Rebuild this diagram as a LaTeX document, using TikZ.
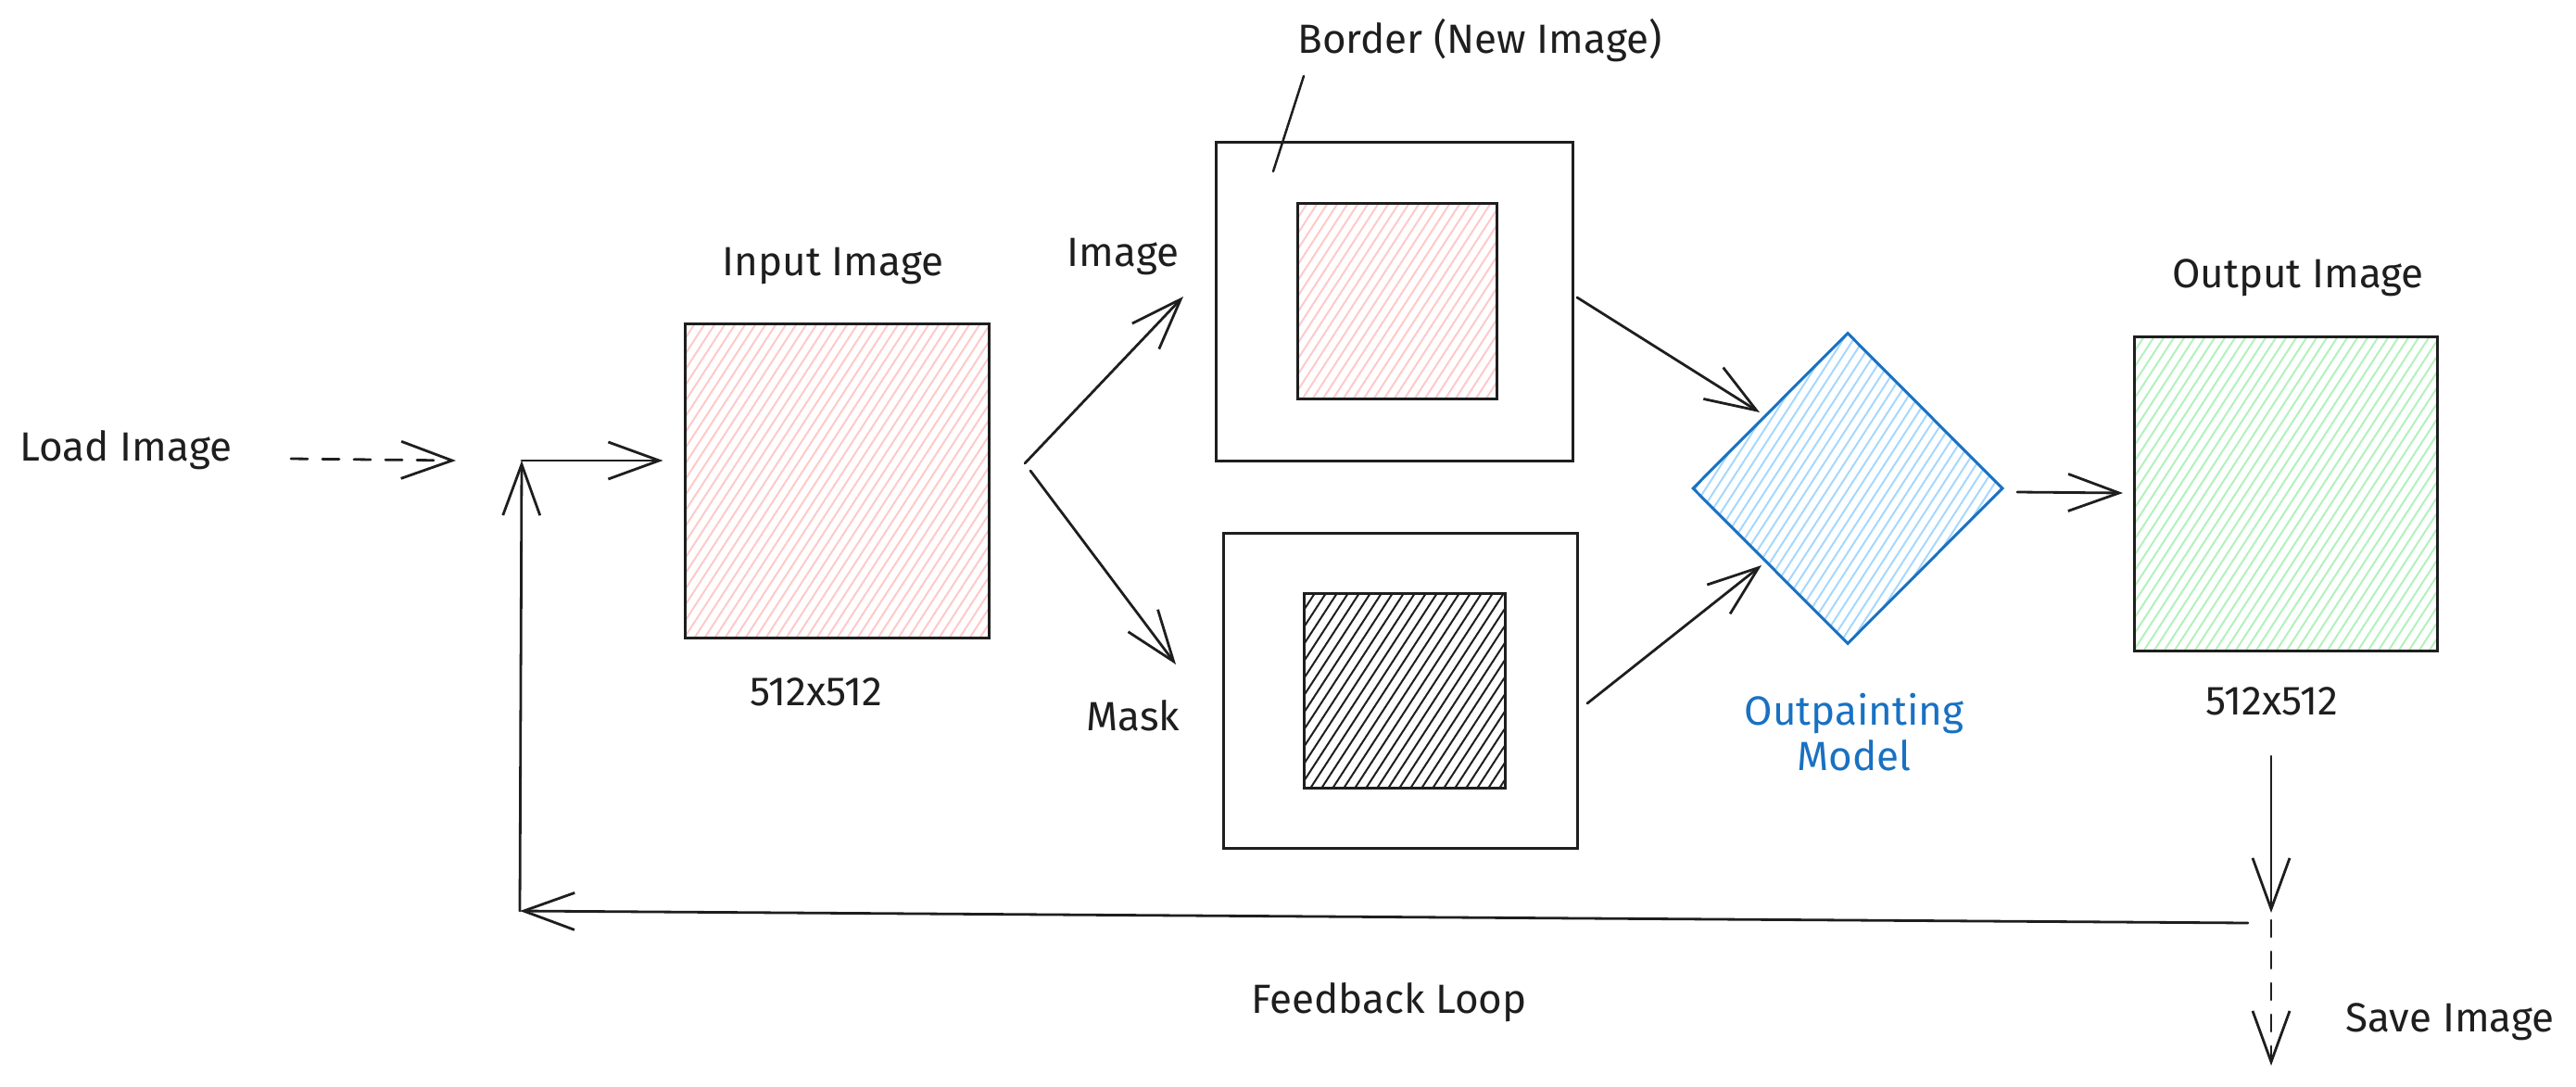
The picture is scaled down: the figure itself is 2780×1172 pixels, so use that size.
\documentclass[tikz,border=0pt]{standalone}
\usepackage{fontspec}
\setmainfont{Fira Sans}
\usetikzlibrary{arrows.meta,shapes.geometric,calc}
\definecolor{ink}{HTML}{1E1E1E}
\definecolor{pinkh}{HTML}{FFC9C9}
\definecolor{greenh}{HTML}{B2F2BB}
\definecolor{blueh}{HTML}{A5D8FF}
\definecolor{bluestroke}{HTML}{1971C2}
\tikzset{
  lbl/.style={font=\fontsize{44}{50}\selectfont, text=ink, anchor=base, inner sep=0pt},
  box/.style={draw=ink, line width=3pt, inner sep=0pt},
  conn/.style={draw=ink, line width=2.8pt, line cap=round, -{Straight Barb[length=55pt,width=40pt,line width=2.8pt]}},
  dashconn/.style={conn, dash pattern=on 18pt off 16pt},
  hatchline/.style={line width=2pt},
}
\newcommand{\hatchbox}[6]{%
  \begin{scope}
    \clip (#1,#2) rectangle (#3,#4);
    \pgfmathsetmacro{\hhx}{(#4-#2)*0.65}
    \pgfmathsetmacro{\hta}{#1-\hhx}
    \pgfmathsetmacro{\htb}{#1-\hhx+#6}
    \foreach \hx in {\hta,\htb,...,#3} {\draw[hatchline, draw=#5] (\hx,#4) -- (\hx+\hhx,#2);}
  \end{scope}}
\begin{document}
\begin{tikzpicture}[x=1pt,y=-1pt]
\useasboundingbox (0,0) rectangle (2780,1172);

% hatch fills
\hatchbox{739}{349}{1067}{688}{pinkh}{11}
\hatchbox{1400}{219}{1615}{430}{pinkh}{11}
\hatchbox{1407}{640}{1624}{850}{ink}{12}
\hatchbox{2303}{363}{2630}{702}{greenh}{11}
\begin{scope}
  \clip (1994,359) -- (2161,527) -- (1994,695) -- (1826,527) -- cycle;
  \foreach \hx in {1600,1611,...,2170} {\draw[hatchline, draw=blueh] (\hx,695) -- (\hx+218,359);}
\end{scope}

% shapes
\node[box, minimum width=328pt, minimum height=339pt] (inimg) at (903,518.5) {};
\node[box, minimum width=385pt, minimum height=344pt] (border) at (1504.5,325) {};
\node[box, minimum width=215pt, minimum height=211pt] (inner) at (1507.5,324.5) {};
\node[box, minimum width=382pt, minimum height=340pt] (maskbox) at (1511,745) {};
\node[box, minimum width=217pt, minimum height=210pt] (maskin) at (1515.5,745) {};
\node[diamond, draw=bluestroke, line width=3pt, minimum width=335pt, minimum height=336pt, inner sep=0pt, aspect=1] (model) at (1994,527) {};
\node[box, minimum width=327pt, minimum height=339pt] (outimg) at (2466.5,532.5) {};

% labels
\node[lbl] (tload) at (136,497) {Load Image};
\node[lbl] (tin) at (899,297) {Input Image};
\node[lbl] (tinsz) at (881,761) {512x512};
\node[lbl] (timg) at (1212,287) {Image};
\node[lbl] (tmask) at (1223,788) {Mask};
\node[lbl] (tborder) at (1597,57) {Border (New Image)};
\node[lbl, text=bluestroke] (tmodel1) at (2001,782) {Outpainting};
\node[lbl, text=bluestroke] (tmodel2) at (2001,831) {Model};
\node[lbl] (tout) at (2480,310) {Output Image};
\node[lbl] (toutsz) at (2452,771) {512x512};
\node[lbl] (tfb) at (1499,1093) {Feedback Loop};
\node[lbl] (tsave) at (2644,1113) {Save Image};

% connector end points
\coordinate (dA) at (314,495);
\coordinate (dB) at (492,497);
\coordinate (J) at (563,497);
\coordinate (fbL) at (561,983);
\coordinate (fbR) at (2426,996);
\coordinate (a1s) at (1106,500);
\coordinate (a1e) at (1277,320);
\coordinate (a2s) at (1112,508);
\coordinate (a2e) at (1269,717);
\coordinate (a3s) at (1702,321);
\coordinate (a3e) at (1899,445);
\coordinate (a4s) at (1713,759);
\coordinate (a4e) at (1901,610);
\coordinate (a5s) at (2177,531);
\coordinate (a5e) at (2291,532);
\coordinate (oA) at (2451,816);
\coordinate (oB) at (2451,985);
\coordinate (oC) at (2451,993);
\coordinate (oD) at (2451,1150);
\coordinate (bl1) at (1407,82);
\coordinate (bl2) at (1374,185);

% connectors
\draw[dashconn] (dA) -- (dB);
\draw[conn, shorten >=22pt] (J) -- (J -| inimg.west);
\draw[conn] (fbR) -- (fbL);
\draw[conn] (fbL) -- (J);
\draw[conn] (a1s) -- (a1e);
\draw[conn] (a2s) -- (a2e);
\draw[conn] (a3s) -- (a3e);
\draw[conn] (a4s) -- (a4e);
\draw[conn] (a5s) -- (a5e);
\draw[conn] (oA) -- (oB);
\draw[dashconn] (oC) -- (oD);
\draw[draw=ink, line width=2.5pt, line cap=round] (bl1) -- (bl2);
\end{tikzpicture}
\end{document}
